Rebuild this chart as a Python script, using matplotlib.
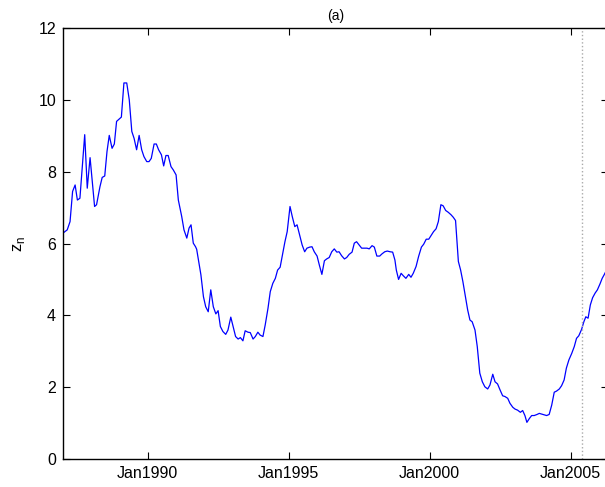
import numpy as np
import matplotlib
matplotlib.use("Agg")
import matplotlib.pyplot as plt

plt.rcParams['font.family'] = ['Liberation Sans', 'DejaVu Sans']

# time in decimal years
t = [1987.00, 1987.15, 1987.25, 1987.34, 1987.43, 1987.51, 1987.60, 1987.77, 1987.86, 1987.96,
     1988.12, 1988.19, 1988.31, 1988.39, 1988.48, 1988.56, 1988.64, 1988.74, 1988.82, 1988.90,
     1989.07, 1989.16, 1989.26, 1989.35, 1989.44, 1989.52, 1989.61, 1989.70, 1989.79, 1989.87,
     1989.97, 1990.05, 1990.13, 1990.23, 1990.31, 1990.39, 1990.49, 1990.57, 1990.65, 1990.73,
     1990.83, 1990.91, 1991.01, 1991.09, 1991.21, 1991.29, 1991.39, 1991.47, 1991.54, 1991.62,
     1991.70, 1991.74, 1991.89, 1991.98, 1992.06, 1992.15, 1992.24, 1992.33, 1992.42, 1992.50,
     1992.58, 1992.67, 1992.77, 1992.85, 1992.95, 1993.03, 1993.12, 1993.21, 1993.29, 1993.38,
     1993.46, 1993.56, 1993.64, 1993.74, 1993.82, 1993.91, 1993.99, 1994.09, 1994.17, 1994.27,
     1994.35, 1994.44, 1994.53, 1994.61, 1994.70, 1994.78, 1994.87, 1994.95, 1995.05, 1995.13,
     1995.22, 1995.30, 1995.39, 1995.48, 1995.57, 1995.65, 1995.75, 1995.83, 1995.91, 1996.01,
     1996.09, 1996.18, 1996.27, 1996.35, 1996.44, 1996.53, 1996.62, 1996.71, 1996.79, 1996.88,
     1996.98, 1997.06, 1997.15, 1997.25, 1997.33, 1997.41, 1997.50, 1997.59, 1997.68, 1997.78,
     1997.86, 1997.96, 1998.04, 1998.13, 1998.23, 1998.31, 1998.41, 1998.50, 1998.60, 1998.69,
     1998.77, 1998.82, 1998.90, 1998.99, 1999.07, 1999.16, 1999.26, 1999.34, 1999.42, 1999.52,
     1999.61, 1999.71, 1999.79, 1999.88, 1999.97, 2000.05, 2000.14, 2000.23, 2000.31, 2000.40,
     2000.48, 2000.57, 2000.66, 2000.76, 2000.84, 2000.92, 2001.02, 2001.10, 2001.18, 2001.27,
     2001.35, 2001.43, 2001.51, 2001.61, 2001.69, 2001.78, 2001.87, 2001.96, 2002.06, 2002.14,
     2002.24, 2002.32, 2002.41, 2002.50, 2002.59, 2002.67, 2002.77, 2002.85, 2002.95, 2003.03,
     2003.12, 2003.22, 2003.30, 2003.38, 2003.45, 2003.54, 2003.62, 2003.71, 2003.81, 2003.89,
     2003.98, 2004.07, 2004.15, 2004.24, 2004.33, 2004.42, 2004.50, 2004.60, 2004.68, 2004.77,
     2004.85, 2004.94, 2005.04, 2005.13, 2005.21, 2005.29, 2005.39, 2005.47, 2005.54, 2005.62,
     2005.70, 2005.78, 2005.87, 2005.95, 2006.04, 2006.12, 2006.19, 2006.30]
z = [6.29, 6.38, 6.61, 7.45, 7.63, 7.21, 7.26, 9.03, 7.54, 8.39,
     7.03, 7.08, 7.58, 7.84, 7.88, 8.56, 9.01, 8.65, 8.77, 9.40,
     9.52, 10.47, 10.47, 10.00, 9.12, 8.93, 8.61, 9.01, 8.61, 8.42,
     8.28, 8.28, 8.37, 8.77, 8.77, 8.61, 8.47, 8.16, 8.45, 8.45,
     8.14, 8.05, 7.91, 7.21, 6.75, 6.38, 6.15, 6.43, 6.52, 6.01,
     5.91, 5.84, 5.13, 4.52, 4.24, 4.10, 4.71, 4.24, 4.04, 4.13,
     3.69, 3.55, 3.47, 3.59, 3.95, 3.69, 3.41, 3.34, 3.38, 3.29,
     3.57, 3.53, 3.52, 3.34, 3.41, 3.53, 3.45, 3.41, 3.73, 4.20,
     4.66, 4.89, 5.03, 5.26, 5.34, 5.68, 6.05, 6.33, 7.03, 6.75,
     6.47, 6.52, 6.24, 5.96, 5.77, 5.87, 5.90, 5.91, 5.77, 5.65,
     5.40, 5.14, 5.52, 5.57, 5.61, 5.77, 5.85, 5.76, 5.77, 5.66,
     5.57, 5.61, 5.70, 5.76, 6.01, 6.05, 5.96, 5.87, 5.87, 5.87,
     5.85, 5.94, 5.90, 5.65, 5.65, 5.71, 5.77, 5.79, 5.77, 5.76,
     5.54, 5.26, 5.00, 5.17, 5.10, 5.03, 5.14, 5.06, 5.17, 5.36,
     5.64, 5.90, 5.98, 6.12, 6.12, 6.22, 6.33, 6.41, 6.61, 7.08,
     7.05, 6.92, 6.87, 6.80, 6.73, 6.64, 5.50, 5.26, 4.94, 4.52,
     4.15, 3.87, 3.82, 3.59, 3.13, 2.39, 2.15, 2.01, 1.95, 2.06,
     2.36, 2.15, 2.09, 1.92, 1.76, 1.74, 1.69, 1.55, 1.44, 1.39,
     1.36, 1.30, 1.35, 1.21, 1.02, 1.13, 1.21, 1.21, 1.24, 1.27,
     1.25, 1.23, 1.21, 1.24, 1.50, 1.86, 1.89, 1.95, 2.04, 2.20,
     2.53, 2.76, 2.94, 3.13, 3.36, 3.43, 3.61, 3.82, 3.96, 3.92,
     4.29, 4.49, 4.62, 4.71, 4.87, 5.03, 5.13, 5.30]

xticks = [1990, 1995, 2000, 2005]
xticklabels = ['Jan1990', 'Jan1995', 'Jan2000', 'Jan2005']
t_mark = 2005.40

fig = plt.figure(figsize=(6.05, 4.87), dpi=100)
ax = fig.add_axes([63/605, 28/487, 545/605, 431/487])

ax.plot(t, z, color='blue', lw=0.9)
ax.axvline(t_mark, color='#aaaaaa', ls=':', lw=1.0)

ax.set_xlim(1987.0, 1987.0 + 545/28.2)
ax.set_ylim(0, 12)
ax.set_xticks(xticks)
ax.set_xticklabels(xticklabels)
ax.set_yticks(range(0, 13, 2))
ax.tick_params(direction='in', top=True, right=True, labelsize=11.5, length=5, width=0.8, pad=5)
for s in ax.spines.values():
    s.set_linewidth(1.0)

ax.set_title('(a)', fontsize=10, pad=6)
ax.set_ylabel(r'z$_\mathregular{n}$', fontsize=12, labelpad=8)

fig.savefig('out.png', dpi=100)
